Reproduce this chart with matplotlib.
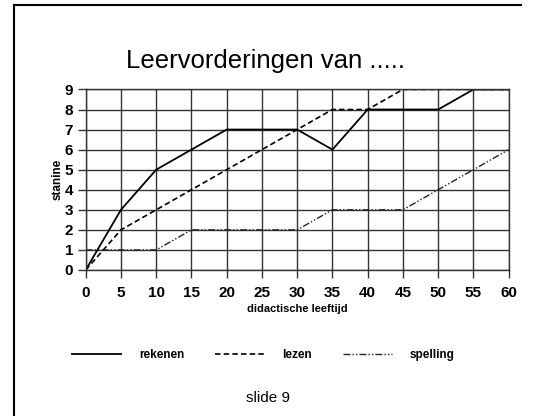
import matplotlib
matplotlib.use("Agg")
import matplotlib.pyplot as plt
from matplotlib.lines import Line2D

# leeftijd (maanden) en stanines
leeftijd = [0, 5, 10, 15, 20, 25, 30, 35, 40, 45, 50, 55, 60]
rekenen = [0, 3, 5, 6, 7, 7, 7, 6, 8, 8, 8, 9, 9]
lezen = [0, 2, 3, 4, 5, 6, 7, 8, 8, 9, 9, 9, 9]
spelling = [1, 1, 1, 2, 2, 2, 2, 3, 3, 3, 4, 5, 6]

plt.rcParams['font.family'] = ['Liberation Sans', 'DejaVu Sans']

fig = plt.figure(figsize=(5.4, 4.16), dpi=100)
ax = fig.add_axes([0.1587, 0.351, 0.7833, 0.434])

ax.plot(leeftijd, rekenen, color='black', lw=1.3, ls='-', label='rekenen')
ax.plot(leeftijd, lezen, color='black', lw=1.2, ls=(0, (3.3, 1.9)), label='lezen')
ax.plot(leeftijd, spelling, color='#222222', lw=1.0, ls=(0, (5, 1.5, 1, 1.5, 1, 1.5)), label='spelling')

ax.set_xlim(0, 60)
ax.set_ylim(0, 9)
ax.set_xticks(range(0, 61, 5))
ax.set_yticks(range(0, 10))
ax.grid(True, color='#333333', lw=1.0)
ax.set_axisbelow(True)
for s in ax.spines.values():
    s.set_color('#333333')
    s.set_linewidth(1.0)
ax.tick_params(length=5.5, width=1.0, color='#333333', labelsize=11)
for lab in ax.get_xticklabels() + ax.get_yticklabels():
    lab.set_fontweight('bold')
ax.tick_params(axis='x', pad=6)
ax.tick_params(axis='y', pad=3.5)

ax.set_xlabel('didactische leeftijd', fontsize=8, fontweight='bold', labelpad=3)
ax.set_ylabel('stanine', fontsize=8.5, fontweight='bold', labelpad=1)

fig.text(0.492, 0.853, 'Leervorderingen van .....', fontsize=18.5, ha='center', va='center')

ax.legend(loc='center', bbox_to_anchor=(0.42, -0.47), ncol=3, frameon=False,
          prop={'weight': 'bold', 'size': 8.5}, handlelength=4.2, handletextpad=1.5,
          columnspacing=2.6)

fig.text(0.497, 0.043, 'slide 9', fontsize=11, ha='center', va='center')

# rand van de dia
fig.add_artist(Line2D([0.025, 0.025], [0.0, 0.988], color='black', lw=1.5))
fig.add_artist(Line2D([0.025, 0.965], [0.988, 0.988], color='black', lw=1.5))

fig.savefig('out.png', dpi=100)
